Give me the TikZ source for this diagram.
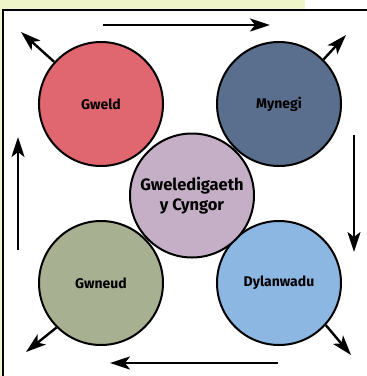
\documentclass[tikz,border=0pt]{standalone}
\usepackage{fontspec}
\setmainfont{Fira Sans}
\usetikzlibrary{arrows.meta, positioning, calc}

\definecolor{paper}{HTML}{EEF5C8}
\definecolor{gweldred}{HTML}{E06670}
\definecolor{mynegiblue}{HTML}{5A6E8E}
\definecolor{gwneudgreen}{HTML}{A8B092}
\definecolor{dylanblue}{HTML}{8DB7E3}
\definecolor{cyngorlilac}{HTML}{C4AFC6}

\begin{document}
\begin{tikzpicture}[
    x=1pt, y=1pt,
    circ/.style   ={circle, draw, line width=2pt, minimum size=124pt, inner sep=0pt, font=\bfseries\fontsize{14}{16}\selectfont, align=center},
    bigtext/.style={font=\bfseries\fontsize{16.5}{20}\selectfont},
    arrow/.style  ={-{Stealth[length=20pt, width=13pt, inset=5pt]}, line width=2.4pt},
    ]

    % --- Background and frame ---
    \useasboundingbox (0,0) rectangle (367,-376);
    \fill[paper] (0,0) rectangle (305,-10);
    \fill[paper] (0,-10) rectangle (3,-376);
    \draw[line width=1.2pt] (3,-376) -- (3,-10) -- (367,-10);

    % --- Circles ---
    \node[circ, fill=gweldred] (gweld) at (101,-104) {Gweld};
    \node[circ, fill=mynegiblue, right=52pt of gweld] (mynegi) {Mynegi};
    \node[circ, fill=gwneudgreen, below=53pt of gweld] (gwneud) {Gwneud};
    \node[circ, fill=dylanblue, right=52pt of gwneud] (dylanwadu) {Dylanwadu};
    \node[circ, bigtext, fill=cyngorlilac] (cyngor) at ($(gweld)!0.5!(dylanwadu)+(2,-2)$) {Gweledigaeth\\y Cyngor};

    % --- Cycle arrows ---
    \coordinate (top_a) at (103,-25);
    \coordinate (top_b) at (270,-25);
    \coordinate (right_a) at (354,-135);
    \coordinate (right_b) at (354,-252);
    \coordinate (bot_a) at (278,-363);
    \coordinate (bot_b) at (110,-363);
    \coordinate (left_a) at (18,-250);
    \coordinate (left_b) at (18,-137);

    \draw[arrow] (top_a) -- (top_b);
    \draw[arrow] (right_a) -- (right_b);
    \draw[arrow] (bot_a) -- (bot_b);
    \draw[arrow] (left_a) -- (left_b);

    % --- Outward arrows ---
    \coordinate (gweld_out) at (21,-32);
    \coordinate (mynegi_out) at (346,-35);
    \coordinate (gwneud_out) at (26,-352);
    \coordinate (dylan_out) at (351,-355);

    \draw[arrow] (gweld.138) -- (gweld_out);
    \draw[arrow] (mynegi.45) -- (mynegi_out);
    \draw[arrow] (gwneud.225) -- (gwneud_out);
    \draw[arrow] (dylanwadu.318) -- (dylan_out);

\end{tikzpicture}
\end{document}
